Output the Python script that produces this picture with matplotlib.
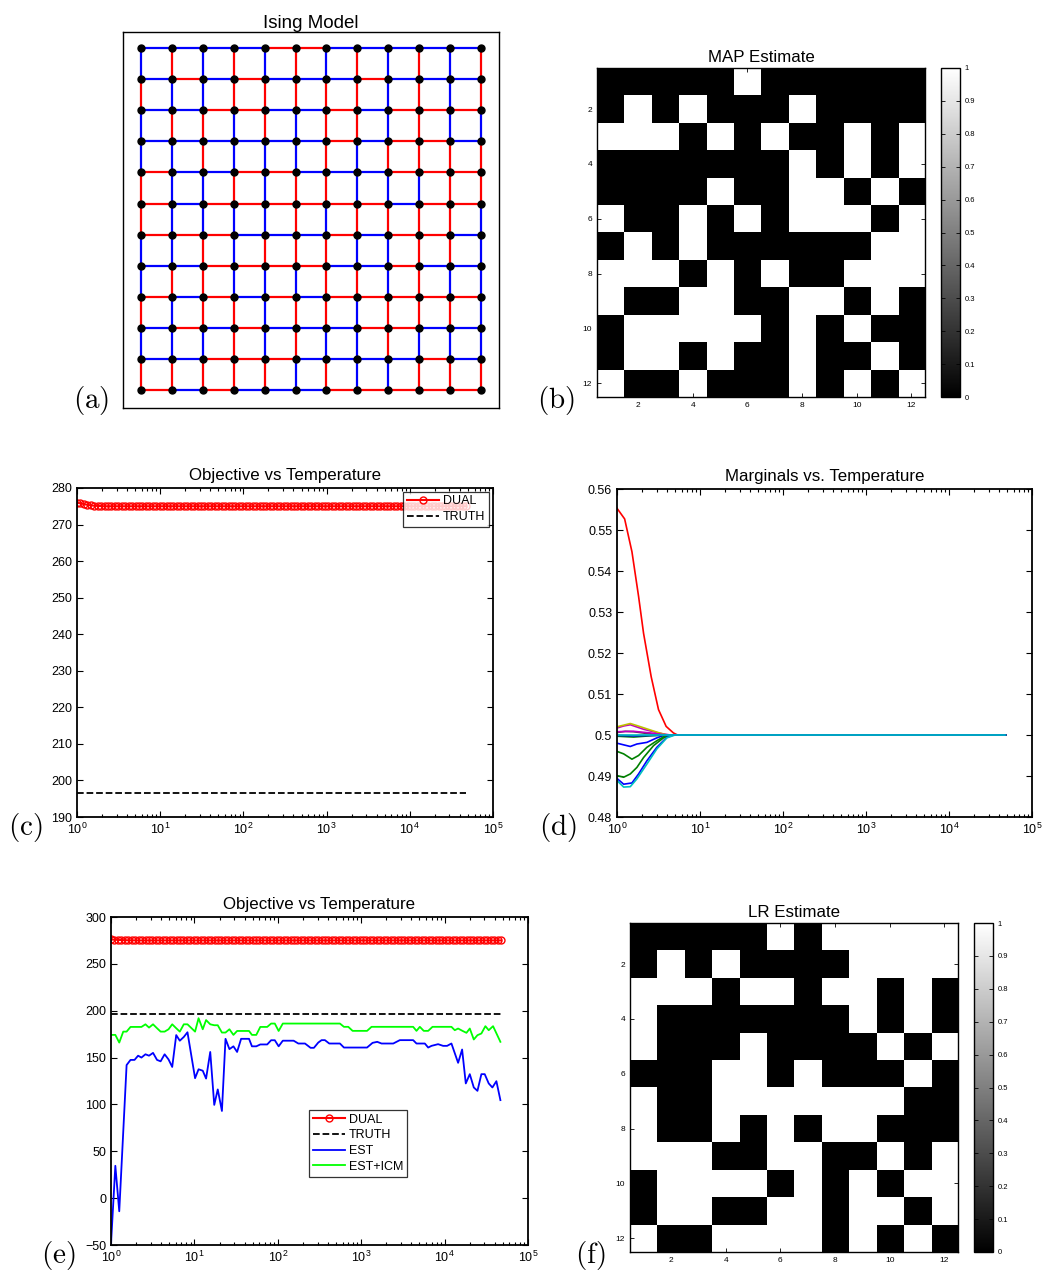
import numpy as np
import matplotlib
matplotlib.use('Agg')
import matplotlib.pyplot as plt
from matplotlib.ticker import LogLocator, NullFormatter, FuncFormatter

plt.rcParams['font.family'] = ['Liberation Sans', 'DejaVu Sans']

# ---------------- data ----------------
# Ising model edge colours (R = red, B = blue); rows top to bottom
ising_h = ["BBBBRRBBBBB", "BRBRBBBRBBB", "BBRRBBRBRRR", "BBBBBBRBRRB",
           "RBBRRBBBRRR", "RBRRRRRRBRR", "RRRBBBRBRRB", "BBRRRRBBRBB",
           "RBRBRBRRRRR", "BRBRBBBRRBB", "BBRRRBBBBRB", "RBRBBBRRRRR"]
ising_v = ["BRBRBRBRBRBR", "RBBRRRRRBRBR", "BRRBRBRRBRBB", "BBRBBBRBRRRR",
           "RBBRBRRBBBRR", "RBBBBRBRRRRB", "BBRBRRRBBRRB", "BRRBBBRRBRBB",
           "RBRRBRRBRRRB", "BBBRBRBBRBBB", "RRRRRBRBBRRR"]

map_est = [[0,0,0,0,0,1,0,0,0,0,0,0],
           [0,1,0,1,0,0,0,1,0,0,0,0],
           [1,1,1,0,1,0,1,0,0,1,0,1],
           [0,0,0,0,0,0,0,1,0,1,0,1],
           [0,0,0,0,1,0,0,1,1,0,1,0],
           [1,0,0,1,0,1,0,1,1,1,0,1],
           [0,1,0,1,0,0,0,0,0,0,1,1],
           [1,1,1,0,1,0,1,0,0,1,1,1],
           [1,0,0,1,1,0,0,1,1,0,1,0],
           [0,1,1,1,1,1,0,1,0,1,0,0],
           [0,1,1,0,1,0,0,1,0,0,1,0],
           [1,0,0,1,0,0,0,1,0,1,0,1]]

lr_est = [[0,0,0,0,0,1,0,1,1,1,1,1],
          [0,1,0,1,0,0,0,0,1,1,1,1],
          [1,1,1,0,1,1,0,1,1,0,1,0],
          [1,0,0,0,0,0,0,0,1,0,1,0],
          [1,0,0,0,1,0,0,0,0,1,0,1],
          [0,0,0,1,1,0,1,0,0,0,1,0],
          [1,0,0,1,1,1,1,1,1,1,0,0],
          [1,0,0,1,0,1,0,1,1,0,0,0],
          [1,1,1,0,0,1,1,0,0,1,0,1],
          [0,1,1,1,1,0,1,0,1,0,1,1],
          [0,1,1,0,0,1,1,0,1,1,0,1],
          [1,0,0,1,1,1,1,0,1,0,1,0]]

# temperature grid (T = 1.1^k)
temps = 1.1 ** np.arange(114)
dual_head = [276.0, 275.8, 275.6, 275.4, 275.25, 275.15, 275.1, 275.05]
dual = np.array(dual_head + [275.0] * (len(temps) - len(dual_head)))
truth = 196.6

# EST and EST+ICM vertices (log10 T, value)
est_logT = [0, 0.052, 0.099, 0.187, 0.234, 0.282, 0.325, 0.365, 0.413, 0.456, 0.504, 0.552,
            0.595, 0.643, 0.69, 0.734, 0.782, 0.825, 0.873, 0.917, 1.008, 1.05, 1.1, 1.14,
            1.19, 1.238, 1.28, 1.33, 1.373, 1.42, 1.468, 1.512, 1.56, 1.655, 1.69, 1.742,
            1.79, 1.873, 1.92, 1.964, 2.01, 2.06, 2.19, 2.246, 2.326, 2.393, 2.433, 2.485,
            2.525, 2.565, 2.617, 2.745, 2.793, 3.07, 3.136, 3.192, 3.244, 3.384, 3.463,
            3.623, 3.663, 3.763, 3.803, 3.843, 3.922, 3.982, 4.03, 4.082, 4.162, 4.21,
            4.254, 4.302, 4.35, 4.394, 4.441, 4.481, 4.529, 4.573, 4.621, 4.669]
est_val = [-49, 34.5, -14, 142, 147.5, 147.5, 152, 150, 153.5, 152, 155, 147.5,
           146, 153.5, 148, 140, 174, 168, 172, 177, 128, 137.5, 136, 127.6,
           156, 99.5, 116, 93, 170, 159, 162, 156, 170, 170, 162, 162,
           164, 164, 168.5, 168.5, 162, 168, 168, 165, 165, 160.4, 160.4, 166,
           168.6, 168.6, 165, 165, 160.7, 160.7, 165.7, 166.8, 165, 165, 168.6,
           168.6, 165, 165, 160.7, 162.5, 164.3, 162.5, 162.5, 165, 144.4, 158.6,
           122.4, 132.3, 118.1, 114.5, 132.3, 132.3, 122.4, 118.1, 124.8, 104.6]

icm_logT = [0, 0.052, 0.099, 0.147, 0.187, 0.234, 0.365, 0.413, 0.456, 0.504, 0.552, 0.595,
            0.643, 0.69, 0.734, 0.782, 0.825, 0.873, 0.917, 1.008, 1.05, 1.1, 1.14, 1.19,
            1.238, 1.28, 1.33, 1.373, 1.42, 1.468, 1.512, 1.655, 1.69, 1.742, 1.79, 1.873,
            1.92, 1.964, 2.01, 2.06, 2.745, 2.793, 2.845, 2.897, 3.07, 3.124, 3.623, 3.663,
            3.703, 3.75, 3.803, 3.855, 4.082, 4.122, 4.162, 4.214, 4.262, 4.302, 4.35,
            4.394, 4.441, 4.489, 4.529, 4.581, 4.669]
icm_val = [174.2, 174.2, 166, 177.7, 177.7, 182.7, 182.7, 185.5, 182, 185.5, 181.3, 177.7,
           177.7, 180.2, 185.5, 181.3, 177.7, 185.5, 185.5, 177.7, 192, 180.2, 190, 185.5,
           184.5, 184.5, 176.7, 176.7, 180.2, 174.2, 178.4, 178.4, 174.2, 174.2, 182.7, 182.7,
           186.3, 186.3, 178.4, 186.3, 186.3, 182.8, 182.8, 178.5, 178.5, 182.8, 182.8, 178.5,
           182.8, 178.5, 178.5, 182.8, 182.8, 179.2, 181, 178.5, 176.4, 181, 169.3,
           173.9, 175.7, 183.5, 179.2, 183.5, 166.8]

# Marginal curves (log10 T, marginal), MATLAB colour order
marg_curves = [
    ("blue",    [0, 0.08, 0.16, 0.24, 0.36, 0.48, 0.58, 4.68],
                [0.4980, 0.4976, 0.4972, 0.4978, 0.4982, 0.4993, 0.5, 0.5]),
    ("green",   [0, 0.08, 0.18, 0.26, 0.36, 0.48, 0.6, 4.68],
                [0.4960, 0.4954, 0.4941, 0.4950, 0.4970, 0.4986, 0.5, 0.5]),
    ("red",     [0, 0.092, 0.18, 0.26, 0.32, 0.412, 0.5, 0.592, 0.68, 0.73, 4.68],
                [0.5553, 0.5527, 0.5447, 0.5338, 0.5248, 0.5142, 0.5062, 0.5021, 0.5005, 0.5, 0.5]),
    ("magenta", [0, 0.08, 0.16, 0.32, 0.52, 0.64, 4.68],
                [0.5017, 0.5022, 0.5025, 0.5014, 0.5004, 0.5, 0.5]),
    ("olive",   [0, 0.08, 0.16, 0.24, 0.36, 0.48, 0.6, 4.68],
                [0.5020, 0.5024, 0.5028, 0.5023, 0.5015, 0.5007, 0.5, 0.5]),
    ("gray",    [0, 0.1, 0.2, 0.35, 0.55, 4.68],
                [0.5006, 0.5009, 0.5008, 0.5004, 0.5, 0.5]),
    ("magenta", [0, 0.2, 0.4, 0.6, 4.68],
                [0.5008, 0.5009, 0.5005, 0.5, 0.5]),
    ("green",   [0, 0.08, 0.16, 0.24, 0.32, 0.44, 0.56, 0.64, 4.68],
                [0.4901, 0.4897, 0.4905, 0.4921, 0.4945, 0.4974, 0.4993, 0.5, 0.5]),
    ("blue",    [0, 0.08, 0.18, 0.26, 0.36, 0.48, 0.6, 0.68, 4.68],
                [0.4894, 0.4880, 0.4883, 0.4905, 0.4937, 0.4970, 0.4994, 0.5, 0.5]),
    ("cyan",    [0, 0.08, 0.16, 0.24, 0.36, 0.48, 0.6, 0.7, 4.68],
                [0.4889, 0.4873, 0.4874, 0.4893, 0.4929, 0.4966, 0.4993, 0.5, 0.5]),
    ("green",   [0, 0.2, 0.4, 0.6, 4.68],
                [0.4997, 0.4995, 0.4998, 0.5, 0.5]),
    ("blue",    [0, 0.2, 0.4, 0.6, 4.68],
                [0.4999, 0.4998, 0.4999, 0.5, 0.5]),
    ("cyan",    [0, 4.68], [0.5, 0.5]),
]

matlab_colors = {"blue": (0, 0, 1), "green": (0, 0.5, 0), "red": (1, 0, 0),
                 "cyan": (0, 0.75, 0.75), "magenta": (0.75, 0, 0.75),
                 "olive": (0.75, 0.75, 0), "gray": (0.25, 0.25, 0.25)}

# ---------------- figure ----------------
W, H = 1048, 1275
fig = plt.figure(figsize=(W / 100, H / 100), dpi=100)


def ax_px(l, t, r, b):
    return fig.add_axes([l / W, 1 - b / H, (r - l) / W, (b - t) / H])


def style_matlab(ax, labelsize=9):
    ax.tick_params(which='both', direction='in', top=True, right=True,
                   labelsize=labelsize, width=0.8)
    ax.tick_params(which='major', length=4)
    ax.tick_params(which='minor', length=2)
    for s in ax.spines.values():
        s.set_linewidth(1.3)


def panel_label(x, y, s):
    fig.text(x / W, 1 - y / H, s, fontsize=21, ha='center', va='center',
             math_fontfamily='cm')


gfmt = FuncFormatter(lambda v, p: ('%g' % round(v, 6)))

# (a) Ising model
ax = ax_px(123, 32, 499, 408)
cmap_e = {"R": "#ff0000", "B": "#0000ff"}
for r, row in enumerate(ising_h):
    for c, ch in enumerate(row):
        ax.plot([c, c + 1], [r, r], color=cmap_e[ch], lw=1.6, zorder=1,
                solid_capstyle='butt')
for r, row in enumerate(ising_v):
    for c, ch in enumerate(row):
        ax.plot([c, c], [r, r + 1], color=cmap_e[ch], lw=1.6, zorder=1,
                solid_capstyle='butt')
gx, gy = np.meshgrid(np.arange(12), np.arange(12))
ax.plot(gx.ravel(), gy.ravel(), 'o', color='black', ms=5, zorder=3)
ax.set_xlim(-0.58, 11.58)
ax.set_ylim(11.58, -0.52)
ax.set_xticks([]); ax.set_yticks([])
for s in ax.spines.values():
    s.set_linewidth(1.0)
ax.set_title("Ising Model", fontsize=13.5, pad=3)
panel_label(91, 401, r'$(\mathrm{a})$')


def image_panel(img, box, cbox, title):
    axi = ax_px(*box)
    im = axi.imshow(np.array(img), cmap='gray', vmin=0, vmax=1, aspect='auto',
                    extent=(0.5, 12.5, 12.5, 0.5), interpolation='nearest')
    axi.set_xticks([2, 4, 6, 8, 10, 12]); axi.set_yticks([2, 4, 6, 8, 10, 12])
    axi.tick_params(direction='in', top=True, right=True, labelsize=6,
                    length=3, width=0.6)
    for s in axi.spines.values():
        s.set_linewidth(1.0)
    axi.set_title(title, fontsize=12.2, pad=4)
    cax = ax_px(*cbox)
    cb = fig.colorbar(im, cax=cax)
    cb.set_ticks(np.round(np.arange(0, 1.01, 0.1), 1))
    cb.ax.yaxis.set_major_formatter(gfmt)
    cb.ax.tick_params(direction='in', labelsize=5.5, length=3, width=0.6,
                      left=True, right=True)
    cb.outline.set_linewidth(1.0)
    return axi


# (b) MAP estimate
image_panel(map_est, (597, 68, 925, 397), (941, 68, 960, 397), "MAP Estimate")
panel_label(556, 401, r'$(\mathrm{b})$')

# (c) Objective vs temperature
ax = ax_px(77, 488, 493, 817)
ax.semilogx(temps, dual, '-o', color='red', lw=1.5, ms=5, mfc='none', mew=1.0,
            label='DUAL')
ax.semilogx([temps[0], temps[-1]], [truth, truth], '--', color='black', lw=1.3,
            label='TRUTH')
ax.set_xlim(1, 1e5)
ax.set_ylim(190, 280)
ax.set_yticks(np.arange(190, 281, 10))
ax.xaxis.set_minor_locator(LogLocator(base=10, subs=np.arange(2, 10)))
ax.xaxis.set_minor_formatter(NullFormatter())
style_matlab(ax)
ax.set_title("Objective vs Temperature", fontsize=12.2, pad=6)
leg = ax.legend(loc='upper right', fontsize=9, fancybox=False, edgecolor='black',
                borderaxespad=0.3, handlelength=2.6, borderpad=0.3,
                labelspacing=0.3, handletextpad=0.3)
leg.get_frame().set_linewidth(0.9)
panel_label(25, 828, r'$(\mathrm{c})$')

# (d) Marginals vs temperature
ax = ax_px(617, 489, 1032, 817)
for cname, lx, ly in marg_curves:
    ax.semilogx(10 ** np.array(lx), ly, '-', color=matlab_colors[cname], lw=1.2)
ax.set_xlim(1, 1e5)
ax.set_ylim(0.48, 0.56)
ax.set_yticks(np.round(np.arange(0.48, 0.5601, 0.01), 2))
ax.yaxis.set_major_formatter(gfmt)
ax.xaxis.set_minor_locator(LogLocator(base=10, subs=np.arange(2, 10)))
ax.xaxis.set_minor_formatter(NullFormatter())
style_matlab(ax)
ax.set_title("Marginals vs. Temperature", fontsize=12.2, pad=6)
panel_label(558, 828, r'$(\mathrm{d})$')

# (e) Objective vs temperature with estimates
ax = ax_px(111, 917, 528, 1245)
ax.semilogx(temps, dual, '-o', color='red', lw=1.5, ms=5, mfc='none', mew=1.0,
            label='DUAL')
ax.semilogx([temps[0], temps[-1]], [truth, truth], '--', color='black', lw=1.3,
            label='TRUTH')
ax.semilogx(10 ** np.array(est_logT), est_val, '-', color='blue', lw=1.3, label='EST')
ax.semilogx(10 ** np.array(icm_logT), icm_val, '-', color=(0, 1, 0), lw=1.3,
            label='EST+ICM')
ax.set_xlim(1, 1e5)
ax.set_ylim(-50, 300)
ax.set_yticks(np.arange(-50, 301, 50))
ax.xaxis.set_minor_locator(LogLocator(base=10, subs=np.arange(2, 10)))
ax.xaxis.set_minor_formatter(NullFormatter())
style_matlab(ax)
ax.set_title("Objective vs Temperature", fontsize=12.2, pad=6)
leg = ax.legend(loc='upper left', bbox_to_anchor=(0.475, 0.412), fontsize=9,
                fancybox=False, edgecolor='black', borderaxespad=0.0,
                handlelength=2.6, borderpad=0.3, labelspacing=0.3,
                handletextpad=0.3)
leg.get_frame().set_linewidth(0.9)
panel_label(58, 1255, r'$(\mathrm{e})$')

# (f) LR estimate
image_panel(lr_est, (630, 923, 958, 1252), (974, 923, 993, 1252), "LR Estimate")
panel_label(590, 1255, r'$(\mathrm{f})$')

fig.savefig('out.png', dpi=100)
